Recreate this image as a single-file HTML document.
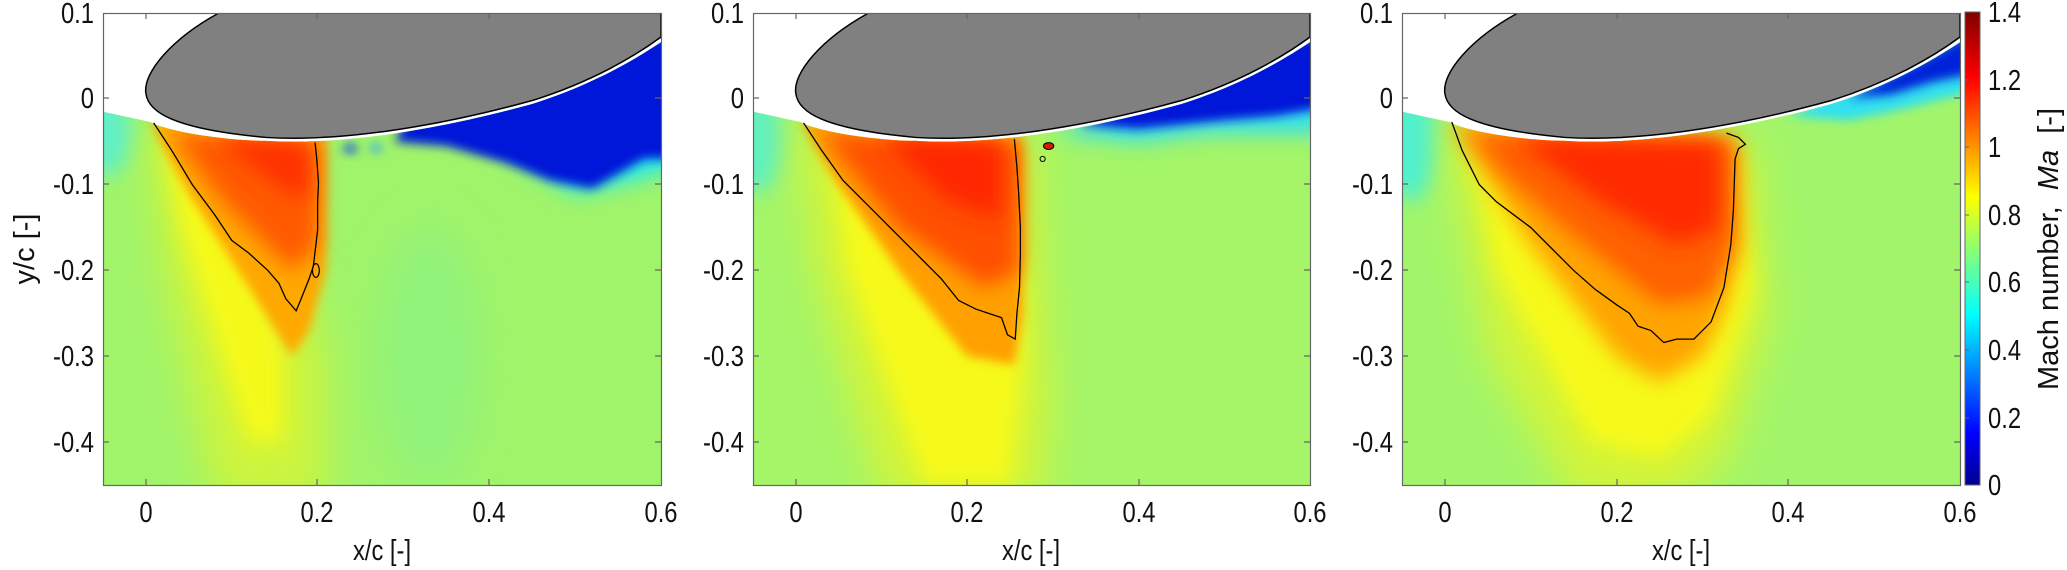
<!DOCTYPE html>
<html><head><meta charset="utf-8"><style>
html,body{margin:0;padding:0;background:#fff;}
svg{display:block;}
text{font-family:"Liberation Sans",Arial,sans-serif;font-size:29px;fill:#111;}
</style></head><body>
<svg width="2067" height="570" viewBox="0 0 2067 570" xmlns="http://www.w3.org/2000/svg">
<defs>
<filter id="b1" x="-1" y="-1" width="3" height="3"><feGaussianBlur stdDeviation="12"/></filter>
<filter id="b2" x="-1" y="-1" width="3" height="3"><feGaussianBlur stdDeviation="22"/></filter>
<filter id="b0" x="-1" y="-1" width="3" height="3"><feGaussianBlur stdDeviation="6"/></filter>
<clipPath id="fc"><path d="M -50 15 L 5 27 C 30 40, 100 49, 140 49 C 220 54, 330 39, 450 6 C 520 -16, 570 -46, 600 -66 L 600 450 L -50 450 Z"/></clipPath>
<clipPath id="ax"><rect x="-50" y="-100" width="650" height="550"/></clipPath>
<linearGradient id="jet" x1="0" y1="1" x2="0" y2="0">
<stop offset="0" stop-color="#00008f"/><stop offset="0.11" stop-color="#0000ff"/><stop offset="0.36" stop-color="#00ffff"/><stop offset="0.61" stop-color="#ffff00"/><stop offset="0.86" stop-color="#ff0000"/><stop offset="1" stop-color="#800000"/>
</linearGradient>
</defs>

<!-- PANEL 1 -->
<svg x="103" y="13" width="558" height="472" viewBox="-50 -100 650 550" preserveAspectRatio="none">
<g clip-path="url(#fc)">
<rect x="-100" y="-100" width="800" height="600" fill="#a0f46a"/>
<ellipse cx="-45" cy="40" rx="30" ry="50" fill="#60f0c8" filter="url(#b1)"/>
<ellipse cx="330" cy="300" rx="60" ry="150" fill="#90f27a" filter="url(#b2)"/>
<polygon points="0,30 140,50 210,300 210,470 80,470 20,200" fill="#cdf43c" filter="url(#b2)"/>
<polygon points="20,40 90,50 160,280 160,400 120,400 40,150" fill="#fafa18" filter="url(#b1)" opacity="0.9"/>
<polygon points="5,25 210,40 210,200 190,270 170,300 120,220 50,110" fill="#ffa800" filter="url(#b0)"/>
<polygon points="30,40 200,50 200,170 170,200 90,120" fill="#ff5a00" filter="url(#b1)"/>
<polygon points="80,45 190,50 190,120 150,100" fill="#ff3000" filter="url(#b1)"/>
<polygon points="300,30 400,50 450,80 500,110 550,100 620,80 620,-80" fill="#20e8f0" filter="url(#b1)"/>
<polygon points="290,50 350,55 420,75 470,95 520,105 580,70 620,70 620,-80 300,30" fill="#0018d8" filter="url(#b0)"/>
<ellipse cx="238" cy="58" rx="8" ry="5" fill="#1040f0" filter="url(#b0)"/>
<ellipse cx="268" cy="57" rx="7" ry="5" fill="#30a0f0" filter="url(#b0)"/>
</g>
<path d="M 9 28 L 30 60 L 54 100 L 80 135 L 100 165 L 120 180 L 142 200 L 155 215 L 163 233 L 175 247 L 180 235 L 184 225 L 190 210 L 195 195 L 198 170 L 200 153 L 200 120 L 201 98 L 199 70 L 197 51" fill="none" stroke="#000" stroke-width="1.3" vector-effect="non-scaling-stroke"/>
<ellipse cx="198" cy="200" rx="4" ry="8" fill="none" stroke="#000" stroke-width="1.2" vector-effect="non-scaling-stroke"/>
<g clip-path="url(#ax)"><path d="M 85 -100 C 30 -70, -4 -30, 0 -6 C 3 15, 30 35, 140 45 C 220 50, 330 35, 450 2 C 520 -20, 570 -50, 600 -72 L 600 -100 Z" fill="#808080" stroke="#000" stroke-width="1.5" vector-effect="non-scaling-stroke"/></g>
</svg>

<!-- PANEL 2 -->
<svg x="753" y="13" width="557" height="472" viewBox="-50 -100 650 550" preserveAspectRatio="none">
<g clip-path="url(#fc)">
<rect x="-100" y="-100" width="800" height="600" fill="#a4f568"/>
<ellipse cx="-45" cy="50" rx="30" ry="60" fill="#60f0c0" filter="url(#b1)"/>
<polygon points="0,30 280,50 300,350 290,470 100,470 20,200" fill="#d2f43a" filter="url(#b2)"/>
<polygon points="40,50 250,60 265,300 250,450 150,450 60,200" fill="#fafa18" filter="url(#b1)" opacity="0.9"/>
<polygon points="5,25 265,45 265,250 255,310 200,300 120,200 50,100" fill="#ffa000" filter="url(#b0)"/>
<polygon points="30,40 260,50 260,200 220,220 120,150" fill="#ff5000" filter="url(#b1)"/>
<polygon points="100,45 240,50 240,140 180,120" fill="#ff2800" filter="url(#b1)"/>
<polygon points="300,40 400,50 480,40 550,40 620,40 620,-80" fill="#30e0f0" filter="url(#b1)"/>
<polygon points="330,30 400,35 450,30 500,25 560,20 620,10 620,-80" fill="#0018d8" filter="url(#b0)"/>
<ellipse cx="295" cy="55" rx="6" ry="4" fill="#d02000" stroke="#000" stroke-width="1" vector-effect="non-scaling-stroke"/>
</g>
<path d="M 9 28 L 30 60 L 55 95 L 80 120 L 100 140 L 125 165 L 150 190 L 170 210 L 190 235 L 210 245 L 225 250 L 240 255 L 247 275 L 256 280 L 258 250 L 261 220 L 262 180 L 262 150 L 260 110 L 258 80 L 255 47" fill="none" stroke="#000" stroke-width="1.3" vector-effect="non-scaling-stroke"/>
<circle cx="288" cy="70" r="3" fill="none" stroke="#000" stroke-width="1" vector-effect="non-scaling-stroke"/>
<g clip-path="url(#ax)"><path d="M 85 -100 C 30 -70, -4 -30, 0 -6 C 3 15, 30 35, 140 45 C 220 50, 330 35, 450 2 C 520 -20, 570 -50, 600 -72 L 600 -100 Z" fill="#808080" stroke="#000" stroke-width="1.5" vector-effect="non-scaling-stroke"/></g>
</svg>

<!-- PANEL 3 -->
<svg x="1402" y="13" width="558" height="472" viewBox="-50 -100 650 550" preserveAspectRatio="none">
<g clip-path="url(#fc)">
<rect x="-100" y="-100" width="800" height="600" fill="#a2f56a"/>
<ellipse cx="-40" cy="50" rx="30" ry="70" fill="#50f0d0" filter="url(#b1)"/>
<polygon points="0,30 360,50 380,250 330,420 270,470 150,470 50,300 20,150" fill="#d2f43a" filter="url(#b2)"/>
<polygon points="30,50 340,60 360,220 310,370 250,420 170,400 60,200" fill="#fafa18" filter="url(#b1)" opacity="0.9"/>
<polygon points="5,25 340,45 345,170 325,250 300,300 250,330 200,300 100,170 40,80" fill="#ffa400" filter="url(#b1)"/>
<polygon points="30,40 335,50 335,170 310,230 250,240 150,160 70,90" fill="#ff6000" filter="url(#b1)"/>
<polygon points="80,45 320,50 320,150 270,170 180,120" fill="#ff2a00" filter="url(#b1)"/>
<polygon points="400,20 470,25 520,15 560,5 620,-10 620,-80" fill="#30e0f0" filter="url(#b0)"/>
<polygon points="470,0 520,-5 570,-20 620,-30 620,-80" fill="#0020d8" filter="url(#b0)"/>
</g>
<path d="M 8 27 L 20 60 L 40 100 L 60 120 L 80 135 L 100 150 L 125 175 L 150 200 L 175 222 L 200 240 L 215 250 L 225 265 L 240 270 L 255 284 L 270 280 L 290 280 L 310 260 L 325 220 L 333 170 L 336 130 L 337 100 L 338 70 L 342 58 L 350 53 L 342 45 L 328 40" fill="none" stroke="#000" stroke-width="1.3" vector-effect="non-scaling-stroke"/>
<g clip-path="url(#ax)"><path d="M 85 -100 C 30 -70, -4 -30, 0 -6 C 3 15, 30 35, 140 45 C 220 50, 330 35, 450 2 C 520 -20, 570 -50, 600 -72 L 600 -100 Z" fill="#808080" stroke="#000" stroke-width="1.5" vector-effect="non-scaling-stroke"/></g>
</svg>

<!-- Axes frames & ticks -->
<g fill="none" stroke="#666" stroke-width="1.2">
<rect x="103.5" y="13.5" width="558" height="472"/>
<rect x="753.5" y="13.5" width="557" height="472"/>
<rect x="1402.5" y="13.5" width="558" height="472"/>
<path d="M146 485v-6M317 485v-6M489 485v-6M146 13v6M317 13v6M489 13v6
M796 485v-6M967 485v-6M1139 485v-6M796 13v6M967 13v6M1139 13v6
M1445 485v-6M1617 485v-6M1788 485v-6M1445 13v6M1617 13v6M1788 13v6
M103 98h6M103 184h6M103 270h6M103 356h6M103 442h6M661 98h-6M661 184h-6M661 270h-6M661 356h-6M661 442h-6
M753 98h6M753 184h6M753 270h6M753 356h6M753 442h6M1310 98h-6M1310 184h-6M1310 270h-6M1310 356h-6M1310 442h-6
M1402 98h6M1402 184h6M1402 270h6M1402 356h6M1402 442h6M1960 98h-6M1960 184h-6M1960 270h-6M1960 356h-6M1960 442h-6"/>
</g>

<!-- colorbar -->
<rect x="1965" y="12" width="15" height="473" fill="url(#jet)" stroke="#666" stroke-width="1"/>
<g stroke="#666" stroke-width="1">
<path d="M1965 418h4M1965 350h4M1965 282h4M1965 215h4M1965 147h4M1965 80h4"/>
</g>

<!-- tick labels -->
<g text-anchor="middle">
<text transform="translate(146,522) scale(0.82,1)">0</text>
<text transform="translate(317,522) scale(0.82,1)">0.2</text>
<text transform="translate(489,522) scale(0.82,1)">0.4</text>
<text transform="translate(661,522) scale(0.82,1)">0.6</text>
<text transform="translate(796,522) scale(0.82,1)">0</text>
<text transform="translate(967,522) scale(0.82,1)">0.2</text>
<text transform="translate(1139,522) scale(0.82,1)">0.4</text>
<text transform="translate(1310,522) scale(0.82,1)">0.6</text>
<text transform="translate(1445,522) scale(0.82,1)">0</text>
<text transform="translate(1617,522) scale(0.82,1)">0.2</text>
<text transform="translate(1788,522) scale(0.82,1)">0.4</text>
<text transform="translate(1960,522) scale(0.82,1)">0.6</text>
<text transform="translate(382,560) scale(0.82,1)">x/c [-]</text>
<text transform="translate(1031,560) scale(0.82,1)">x/c [-]</text>
<text transform="translate(1681,560) scale(0.82,1)">x/c [-]</text>
</g>
<g text-anchor="end">
<text transform="translate(94,23) scale(0.82,1)">0.1</text>
<text transform="translate(94,108) scale(0.82,1)">0</text>
<text transform="translate(94,194) scale(0.82,1)">-0.1</text>
<text transform="translate(94,280) scale(0.82,1)">-0.2</text>
<text transform="translate(94,366) scale(0.82,1)">-0.3</text>
<text transform="translate(94,452) scale(0.82,1)">-0.4</text>
<text transform="translate(744,23) scale(0.82,1)">0.1</text>
<text transform="translate(744,108) scale(0.82,1)">0</text>
<text transform="translate(744,194) scale(0.82,1)">-0.1</text>
<text transform="translate(744,280) scale(0.82,1)">-0.2</text>
<text transform="translate(744,366) scale(0.82,1)">-0.3</text>
<text transform="translate(744,452) scale(0.82,1)">-0.4</text>
<text transform="translate(1393,23) scale(0.82,1)">0.1</text>
<text transform="translate(1393,108) scale(0.82,1)">0</text>
<text transform="translate(1393,194) scale(0.82,1)">-0.1</text>
<text transform="translate(1393,280) scale(0.82,1)">-0.2</text>
<text transform="translate(1393,366) scale(0.82,1)">-0.3</text>
<text transform="translate(1393,452) scale(0.82,1)">-0.4</text>
</g>
<g>
<text transform="translate(1988,495) scale(0.82,1)">0</text>
<text transform="translate(1988,428) scale(0.82,1)">0.2</text>
<text transform="translate(1988,360) scale(0.82,1)">0.4</text>
<text transform="translate(1988,292) scale(0.82,1)">0.6</text>
<text transform="translate(1988,225) scale(0.82,1)">0.8</text>
<text transform="translate(1988,157) scale(0.82,1)">1</text>
<text transform="translate(1988,90) scale(0.82,1)">1.2</text>
<text transform="translate(1988,22) scale(0.82,1)">1.4</text>
</g>
<text text-anchor="middle" transform="translate(34,249) rotate(-90)">y/c [-]</text>
<text text-anchor="middle" transform="translate(2058,249) rotate(-90)" xml:space="preserve">Mach number,  <tspan font-style="italic">Ma</tspan>  [-]</text>
</svg>
</body></html>
